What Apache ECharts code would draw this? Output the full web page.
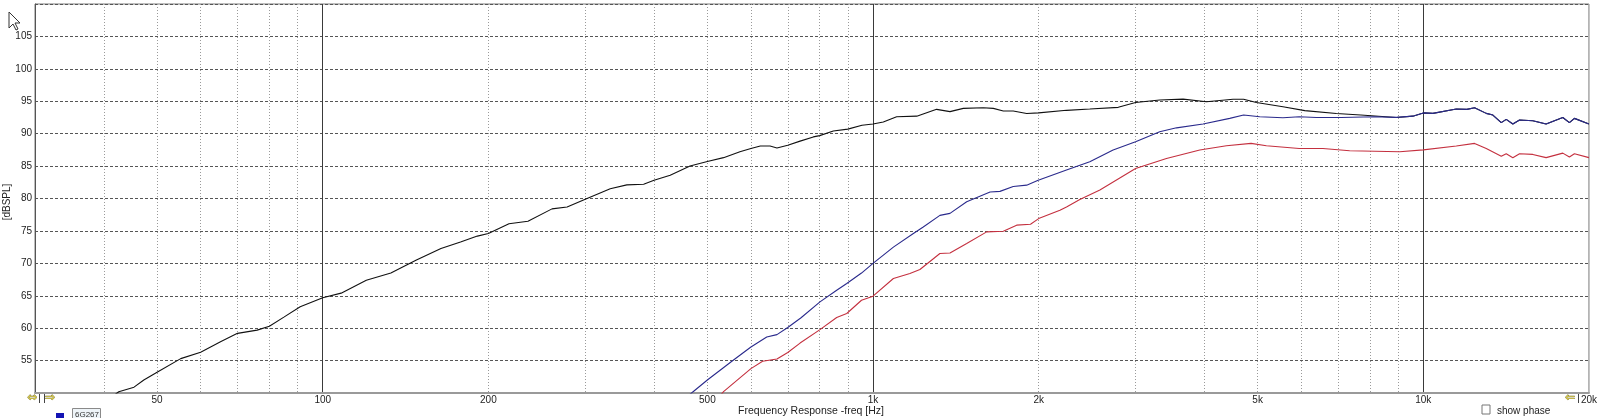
<!DOCTYPE html>
<html>
<head>
<meta charset="utf-8">
<script src="https://cdn.jsdelivr.net/npm/echarts@6/dist/echarts.min.js"></script>
<style>
html,body{margin:0;padding:0;background:#fff;}
#c{width:1600px;height:418px;}
</style>
</head>
<body>
<div id="c"></div>
<script>
// ---- data (frequency in Hz, level in dBSPL) ----
const blackFreq = [42.0,42.6,45.4,47.3,50,55.2,60,65.2,70,76,80,85,91,100,108,120,133,148,164,178,191,200,218,236,261,278,300,333,357,383,400,428,465,500,535,573,600,624,650,669,700,737,779,800,847,900,955,1000,1044,1104,1201,1305,1380,1459,1586,1654,1725,1798,1902,2000,2247,2477,2790,3000,3319,3660,4036,4511,4715,4974,5559,6090,6950,7700,8933,9573,10000,10410,11480,12000,12395,13015,13380,13858,14149,14546,14960,15813,16720,17927,18430,18822,20000];
const blackDb   = [49.8,50.2,50.9,52.0,53.2,55.3,56.3,57.9,59.2,59.7,60.3,61.7,63.3,64.7,65.4,67.4,68.5,70.5,72.3,73.3,74.2,74.6,76.1,76.5,78.4,78.7,79.9,81.5,82.1,82.2,82.8,83.6,85.0,85.7,86.3,87.2,87.7,88.1,88.1,87.8,88.2,88.85,89.5,89.7,90.4,90.7,91.3,91.5,91.8,92.6,92.7,93.75,93.4,93.9,94.0,93.9,93.5,93.5,93.1,93.2,93.6,93.8,94.06,94.8,95.2,95.33,94.92,95.3,95.3,94.8,94.15,93.55,93.1,92.87,92.5,92.7,93.2,93.13,93.8,93.75,94.0,93.13,92.87,91.7,92.2,91.48,92.1,92.0,91.48,92.5,91.7,92.36,91.48];

const blueFreq = [465,471,500,554,600,641,669,700,740,801,859,896,953,1000,1089,1184,1234,1323,1380,1480,1632,1701,1798,1902,1996,2247,2477,2731,3000,3319,3561,3979,4449,4715,5044,5559,5950,6393,7094,8147,8933,9573,10000,10410,11480,12000,12395,13015,13380,13858,14149,14546,14960,15813,16720,17927,18430,18822,20000];
const blueDb   = [49.8,50.2,52.0,54.9,57.1,58.65,59.0,60.1,61.6,64.05,65.85,66.9,68.5,70.0,72.5,74.6,75.6,77.4,77.7,79.5,81.0,81.1,81.85,82.06,82.8,84.4,85.66,87.47,88.75,90.3,90.9,91.5,92.36,92.87,92.6,92.45,92.6,92.5,92.5,92.6,92.51,92.7,93.2,93.13,93.8,93.75,94.0,93.13,92.87,91.7,92.2,91.48,92.1,92.0,91.48,92.5,91.7,92.36,91.48];

const redFreq = [530,535,600,630,669,700,737,801,859,896,953,1000,1089,1167,1217,1323,1380,1480,1609,1725,1824,1933,2000,2186,2247,2376,2584,3000,3414,3925,4388,4865,5187,5950,6572,7349,9060,10000,11480,12395,13015,13858,14149,14546,14960,15813,16720,17927,18430,18822,20000];
const redDb   = [49.8,50.2,53.76,54.9,55.25,56.25,57.7,59.78,61.64,62.26,64.31,64.93,67.66,68.43,69.05,71.52,71.6,73.06,74.85,74.96,75.89,76.04,76.9,78.2,78.7,79.85,81.3,84.64,86.18,87.47,88.13,88.5,88.13,87.72,87.72,87.36,87.2,87.5,88.1,88.5,87.7,86.5,86.9,86.3,86.9,86.8,86.3,87.0,86.4,86.9,86.3];

// ---- axis ticks ----
const minorGridFreq = [30,40,50,60,70,80,90,200,300,400,500,600,700,800,900,2000,3000,4000,5000,6000,7000,8000,9000];
const majorGridFreq = [100,1000,10000];
const xLabelFreq = [50,100,200,500,1000,2000,5000,10000,20000];
const yLabelDb = [55,60,65,70,75,80,85,90,95,100,105];

function zip(f, v){ return f.map((x,i)=>[x, v[i]]); }
function fmtHz(v){ return v >= 1000 ? (v/1000) + 'k' : String(v); }

const FONT = '"Liberation Sans", Arial, sans-serif';
const ARROWFONT = '"DejaVu Sans", sans-serif';
const chart = echarts.init(document.getElementById('c'), null, {renderer:'canvas'});

const baseX = {type:'log', logBase:10, min:30, max:20000, gridIndex:0, position:'bottom'};

chart.setOption({
  animation:false,
  backgroundColor:'#ffffff',
  grid:{left:35, right:11, top:4, bottom:25, show:true, borderColor:'#7a7a7a', borderWidth:1, backgroundColor:'#ffffff'},
  xAxis:[
    Object.assign({}, baseX, {
      axisLine:{show:false},
      axisTick:{show:false, customValues:minorGridFreq},
      axisLabel:{show:false},
      splitLine:{show:true, lineStyle:{color:'#9a9a9a', width:1, type:[1,2]}}
    }),
    Object.assign({}, baseX, {
      axisLine:{show:true, onZero:false, lineStyle:{color:'#9a9a9a', width:2}},
      axisTick:{show:false, customValues:majorGridFreq},
      axisLabel:{show:true, customValues:xLabelFreq, formatter:fmtHz, margin:2, color:'#222', fontSize:10, fontFamily:FONT, showMaxLabel:true, showMinLabel:true},
      splitLine:{show:true, lineStyle:{color:'#3a3a3a', width:1, type:'solid'}}
    })
  ],
  yAxis:{
    type:'value', min:50, max:110, interval:5,
    axisLine:{show:true, lineStyle:{color:'#555', width:1}},
    axisTick:{show:false},
    axisLabel:{margin:3, color:'#222', fontSize:10, fontFamily:FONT,
      formatter:function(v){ return yLabelDb.indexOf(v) >= 0 ? String(v) : ''; }},
    splitLine:{show:true, lineStyle:{color:'#555', width:1, type:[3,2]}}
  },
  series:[
    {type:'line', name:'black', xAxisIndex:0, data:zip(blackFreq, blackDb), showSymbol:false, symbol:'none', clip:true,
      lineStyle:{color:'#111111', width:1.1}, z:3},
    {type:'line', name:'red', xAxisIndex:0, data:zip(redFreq, redDb), showSymbol:false, symbol:'none', clip:true,
      lineStyle:{color:'#c4303f', width:1.1}, z:3},
    {type:'line', name:'blue', xAxisIndex:0, data:zip(blueFreq, blueDb), showSymbol:false, symbol:'none', clip:true,
      lineStyle:{color:'#2a2a8c', width:1.1}, z:4}
  ],
  graphic:[
    {type:'text', position:[811,411], style:{text:'Frequency Response -freq [Hz]', fill:'#222', font:'10.5px ' + FONT, textAlign:'center', textVerticalAlign:'middle'}},
    {type:'text', position:[7,202], rotation:Math.PI/2, style:{text:'[dBSPL]', fill:'#222', font:'10px ' + FONT, textAlign:'center', textVerticalAlign:'middle'}},
    {type:'rect', shape:{x:1482, y:405, width:8, height:9}, style:{fill:'#fff', stroke:'#777', lineWidth:1}},
    {type:'text', position:[1497,411], style:{text:'show phase', fill:'#222', font:'10px ' + FONT, textAlign:'left', textVerticalAlign:'middle'}},
    {type:'text', position:[27,398], style:{text:'\u21d4', fill:'#d0c448', stroke:'#6a6020', lineWidth:0.6, font:'12px ' + ARROWFONT, textAlign:'left', textVerticalAlign:'middle'}},
    {type:'rect', shape:{x:39, y:393, width:1, height:10}, style:{fill:'#444'}},
    {type:'rect', shape:{x:44, y:393, width:1, height:10}, style:{fill:'#444'}},
    {type:'text', position:[45,398], style:{text:'\u21d2', fill:'#d0c448', stroke:'#6a6020', lineWidth:0.6, font:'12px ' + ARROWFONT, textAlign:'left', textVerticalAlign:'middle'}},
    {type:'text', position:[1565,398], style:{text:'\u21d0', fill:'#d0c448', stroke:'#6a6020', lineWidth:0.6, font:'12px ' + ARROWFONT, textAlign:'left', textVerticalAlign:'middle'}},
    {type:'rect', shape:{x:1578, y:393, width:1, height:10}, style:{fill:'#444'}},
    {type:'rect', shape:{x:56, y:413, width:8, height:6}, style:{fill:'#1414b4'}},
    {type:'rect', shape:{x:72.5, y:408.5, width:28, height:12}, style:{fill:'#eef4f8', stroke:'#8a8a8a', lineWidth:1}},
    {type:'text', position:[75,411], style:{text:'6G267', fill:'#333', font:'8px ' + FONT, textAlign:'left', textVerticalAlign:'top'}},
    {type:'polygon', shape:{points:[[9,12],[9,28],[13,24],[16,30],[18,29],[15,23],[20,23]]}, style:{fill:'#fff', stroke:'#333', lineWidth:1}}
  ]
});
</script>
</body>
</html>
